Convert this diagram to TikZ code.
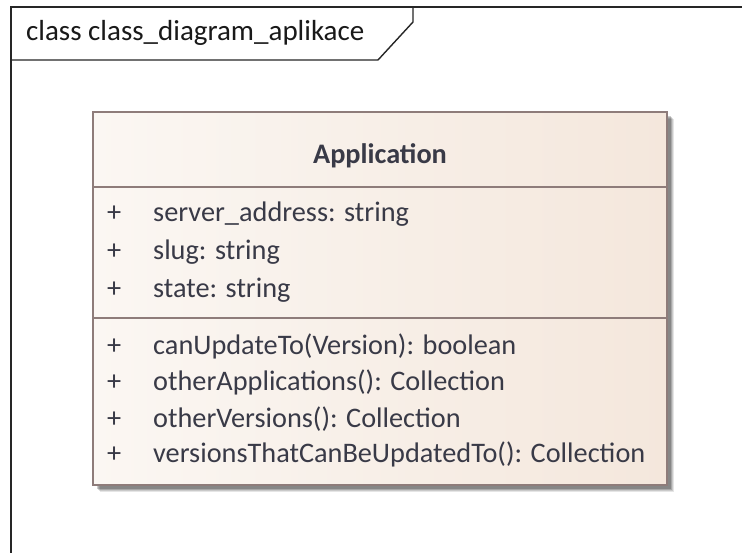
\documentclass[tikz,border=0pt]{standalone}
\usepackage{fontspec}
\setmainfont{Carlito}
\begin{document}
\begin{tikzpicture}[x=1pt,y=-1pt,
  frameline/.style={draw=black!85,line width=1.4pt},
  boxline/.style={draw=clsborder,line width=1.4pt},
  member/.style={anchor=base west,inner sep=0pt,text=membertext,font=\fontsize{28.3}{33}\selectfont},
  vis/.style={member},
]
\definecolor{clsborder}{HTML}{8E7C7A}
\definecolor{membertext}{HTML}{393A47}
\definecolor{fillL}{HTML}{FBF7F3}
\definecolor{fillR}{HTML}{F4E7DC}
\useasboundingbox (0,0) rectangle (742,553);
\fill[white] (0,0) rectangle (742,553);

% diagram frame and its name tab
\draw[frameline] (11,553) -- (11,7) -- (742,7);
\draw[frameline] (11,60) -- (378,60) -- (413,22) -- (413,7);
\node[anchor=base west,inner sep=0pt,text=black!90,font=\fontsize{29}{34}\selectfont] (title) at (26,41) {class class\_diagram\_aplikace};

% drop shadow of the class box
\foreach \o/\a in {7/0.10,6/0.12,5/0.16,4/0.2} {
  \fill[black,opacity=\a] (93+\o,112+\o) rectangle (667+\o,485+\o);
}

% class box
\node[boxline,left color=fillL,right color=fillR,minimum width=574pt,minimum height=373pt,inner sep=0pt] (cls) at (380,298.5) {};
\coordinate (sepA) at (93,187);
\coordinate (sepB) at (93,318);
\draw[boxline] (sepA) -- (cls.east |- sepA);
\draw[boxline] (sepB) -- (cls.east |- sepB);

\node[anchor=base,inner sep=0pt,text=membertext,font=\fontsize{28.3}{33}\selectfont\bfseries] (name) at (380,164) {Application};

% attributes
\node[vis] (v1) at (107,222) {+};
\node[member] (a1) at (153,222) {server\_address: string};
\node[vis] (v2) at (107,260) {+};
\node[member] (a2) at (153,260) {slug: string};
\node[vis] (v3) at (107,298) {+};
\node[member] (a3) at (153,298) {state: string};

% operations
\node[vis] (v4) at (107,355) {+};
\node[member] (o1) at (153,355) {canUpdateTo(Version): boolean};
\node[vis] (v5) at (107,391) {+};
\node[member] (o2) at (153,391) {otherApplications(): Collection};
\node[vis] (v6) at (107,427) {+};
\node[member] (o3) at (153,427) {otherVersions(): Collection};
\node[vis] (v7) at (107,462) {+};
\node[member] (o4) at (153,462) {versionsThatCanBeUpdatedTo(): Collection};
\end{tikzpicture}
\end{document}
